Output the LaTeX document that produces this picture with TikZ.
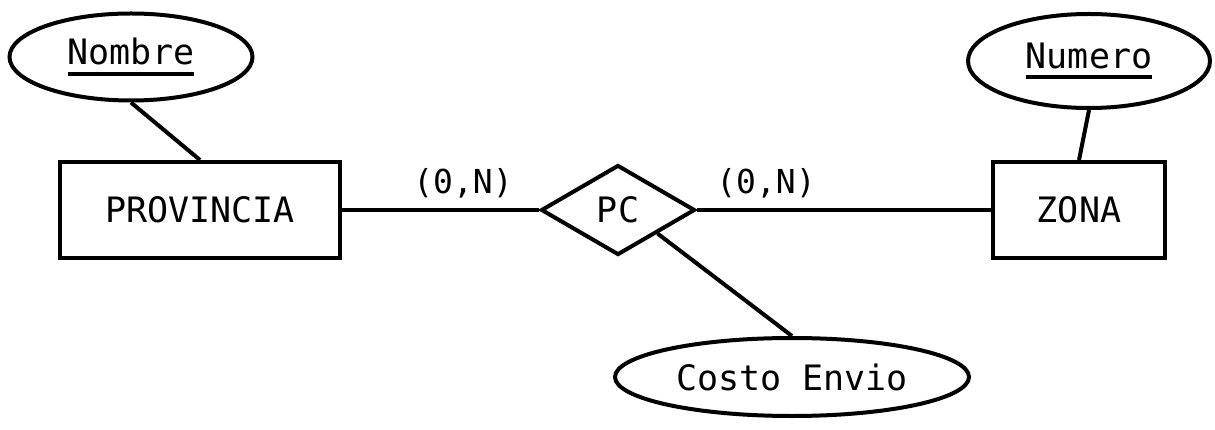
\documentclass[tikz,border=0pt]{standalone}
\usepackage{fontspec}
\setmonofont{DejaVu Sans Mono}
\usetikzlibrary{shapes.geometric}
\newcommand\keyattr[1]{\setbox0\hbox{#1}\rlap{\rule[-11pt]{\wd0}{4pt}}\box0}
\tikzset{
  base/.style={line width=4pt, font=\ttfamily\fontsize{35}{40}\selectfont, inner sep=0pt},
  entity/.style={base, draw, rectangle, minimum height=96pt},
  attr/.style={base, draw, ellipse},
  rel/.style={base, draw, diamond, minimum width=154pt, minimum height=90pt},
  card/.style={inner sep=0pt, font=\ttfamily\fontsize{33}{38}\selectfont},
  conn/.style={line width=4pt}
}
\begin{document}
\begin{tikzpicture}[x=1pt,y=-1pt]
\useasboundingbox (0,0) rectangle (1215,430);
\node[entity, minimum width=280pt] (PROVINCIA) at (200,210) {PROVINCIA};
\node[entity, minimum width=172pt] (ZONA) at (1079,210) {ZONA};
\node[rel] (PC) at (618,210) {PC};
\node[attr, minimum width=243pt, minimum height=87pt] (Nombre) at (131,57) {\keyattr{Nombre}};
\node[attr, minimum width=242pt, minimum height=94pt] (Numero) at (1089,61) {\keyattr{Numero}};
\node[attr, minimum width=354pt, minimum height=78pt] (Costo) at (792,377) {Costo Envio};
\node[card] (c1) at (463,183) {(0,N)};
\node[card] (c2) at (766,183) {(0,N)};
\draw[conn] (PROVINCIA.east) -- (PC.west);
\draw[conn] (PC.east) -- (ZONA.west);
\draw[conn] (Nombre.south) -- (PROVINCIA.north);
\draw[conn] (Numero.south) -- (ZONA.north);
\draw[conn] (PC.south east) -- (Costo.north);
\end{tikzpicture}
\end{document}
